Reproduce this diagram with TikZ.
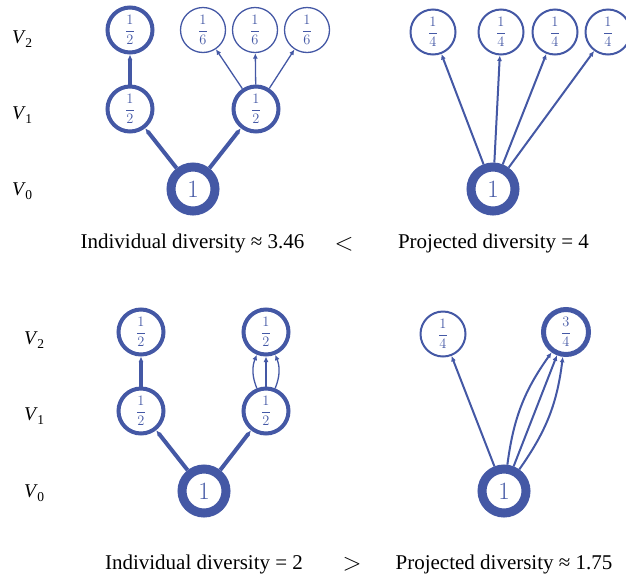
\documentclass[tikz,border=0pt]{standalone}
\usepackage{fontspec}
\setmainfont{Liberation Serif}
\usetikzlibrary{arrows.meta}
\definecolor{nb}{RGB}{68,88,165}
\newcommand\fr[2]{{\fontsize{15}{17}\selectfont$\displaystyle\frac{#1}{#2}$}}
\newcommand\lv[1]{{\fontsize{19.5}{22}\selectfont\textit{V}\kern-0.5pt\raisebox{-0.22em}{\fontsize{13.5}{15}\selectfont #1}}}
\tikzset{
  nd/.style={circle, draw=nb, text=nb, minimum size=45pt, inner sep=0pt},
  wa/.style={line width=1.3pt},
  wb/.style={line width=2pt},
  wc/.style={line width=4pt},
  wd/.style={line width=5pt},
  we/.style={line width=9pt},
  ed/.style={draw=nb, -{Latex[length=5.5pt,width=5pt]}},
  rootnd/.style={nd, we, minimum size=44pt, font=\fontsize{23}{26}\selectfont},
  lbl/.style={anchor=base west, inner sep=0pt},
  captxt/.style={anchor=base, inner sep=0pt, font=\fontsize{21}{24}\selectfont},
  rel/.style={inner sep=0pt, font=\fontsize{42}{42}\selectfont}
}
\begin{document}
\begin{tikzpicture}[x=1pt,y=-1pt]
\useasboundingbox (0,0) rectangle (626,579);
% ---------- top panel ----------
\node[lbl] (lv2a) at (12,43) {\lv{2}};
\node[lbl] (lv1a) at (12,119) {\lv{1}};
\node[lbl] (lv0a) at (12,195) {\lv{0}};
% top left tree
\node[rootnd] (ra) at (193,189) {$1$};
\node[nd, wc] (a1) at (130,109) {\fr12};
\node[nd, wc] (a2) at (256,109) {\fr12};
\node[nd, wc] (a11) at (130,30) {\fr12};
\node[nd, wa] (a21) at (203,30) {\fr16};
\node[nd, wa] (a22) at (255,30) {\fr16};
\node[nd, wa] (a23) at (307,30) {\fr16};
\draw[ed, wc] (ra) -- (a1);
\draw[ed, wc] (ra) -- (a2);
\draw[ed, wc] (a1) -- (a11);
\draw[ed, wa] (a2) -- (a21);
\draw[ed, wa] (a2) -- (a22);
\draw[ed, wa] (a2) -- (a23);
% top right
\node[rootnd] (rb) at (493,189) {$1$};
\node[nd, wb] (b1) at (433,32) {\fr14};
\node[nd, wb] (b2) at (501,32) {\fr14};
\node[nd, wb] (b3) at (555,32) {\fr14};
\node[nd, wb] (b4) at (608,32) {\fr14};
\draw[ed, wb] (rb) -- (b1);
\draw[ed, wb] (rb) -- (b2);
\draw[ed, wb] (rb) -- (b3);
\draw[ed, wb] (rb) -- (b4);
% captions
\node[captxt] (c1) at (192.5,248) {Individual diversity ≈ 3.46};
\node[rel] (lt) at (344,244) {$<$};
\node[captxt] (c2) at (493.5,248) {Projected diversity = 4};
% ---------- bottom panel ----------
\node[lbl] (lv2b) at (24,344) {\lv{2}};
\node[lbl] (lv1b) at (24,420) {\lv{1}};
\node[lbl] (lv0b) at (24,497) {\lv{0}};
% bottom left tree
\node[rootnd] (rc) at (204,491) {$1$};
\node[nd, wc] (c1n) at (141,411) {\fr12};
\node[nd, wc] (c2n) at (266,411) {\fr12};
\node[nd, wc] (c11) at (141,332) {\fr12};
\node[nd, wc] (c21) at (266,332) {\fr12};
\draw[ed, wc] (rc) -- (c1n);
\draw[ed, wc] (rc) -- (c2n);
\draw[ed, wc] (c1n) -- (c11);
\draw[ed, wa] (c2n) to[bend left=22] (c21);
\draw[ed, wa] (c2n) -- (c21);
\draw[ed, wa] (c2n) to[bend right=22] (c21);
% bottom right
\node[rootnd] (rd) at (504,491) {$1$};
\node[nd, wb] (d1) at (443,334) {\fr14};
\node[nd, wd] (d2) at (566,332) {\fr34};
\draw[ed, wb] (rd) -- (d1);
\draw[ed, wb] (rd) to[bend left=14] (d2);
\draw[ed, wb] (rd) -- (d2);
\draw[ed, wb] (rd) to[bend right=14] (d2);
% captions
\node[captxt] (c3) at (204,569) {Individual diversity = 2};
\node[rel] (gt) at (352,564) {$>$};
\node[captxt] (c4) at (504,569) {Projected diversity ≈ 1.75};
\end{tikzpicture}
\end{document}
